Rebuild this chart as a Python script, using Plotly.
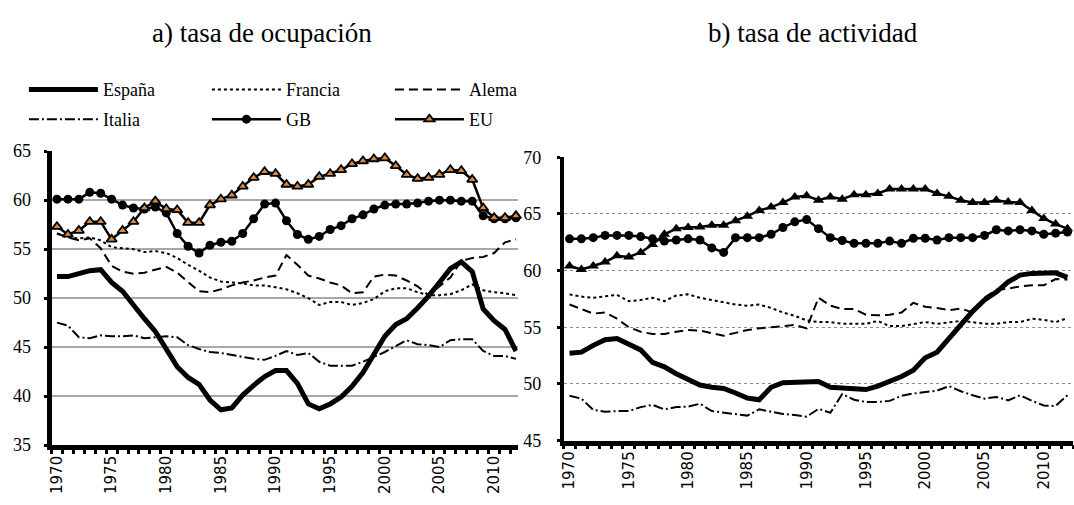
import plotly.graph_objects as go

# datos (1970-2012)
years = list(range(1970, 2013))
tick_years = [1970, 1975, 1980, 1985, 1990, 1995, 2000, 2005, 2010]

# a) tasa de ocupacion
esp_ocup = [52.2, 52.2, 52.5, 52.8, 52.9, 51.6, 50.7, 49.2, 47.9, 46.6,
            44.8, 43.0, 41.9, 41.2, 39.6, 38.6, 38.8, 40.1, 41.1, 42.0,
            42.6, 42.6, 41.3, 39.2, 38.7, 39.2, 39.9, 41.0, 42.4, 44.3,
            46.1, 47.3, 47.9, 49.0, 50.2, 51.6, 53.0, 53.7, 52.7, 48.9,
            47.7, 46.8, 44.6]
fra_ocup = [56.6, 56.2, 56.1, 56.2, 55.9, 55.2, 55.1, 55.0, 54.7, 54.8,
            54.6, 54.1, 53.4, 52.8, 52.1, 51.7, 51.6, 51.5, 51.3, 51.3,
            51.1, 50.9, 50.5, 50.0, 49.3, 49.6, 49.6, 49.3, 49.5, 49.9,
            50.7, 51.0, 51.0, 50.6, 50.3, 50.3, 50.4, 50.8, 51.4, 50.8,
            50.6, 50.5, 50.3]
ale_ocup = [56.6, 56.2, 55.9, 56.1, 55.1, 53.3, 52.7, 52.5, 52.6, 52.9,
            53.2, 52.6, 51.7, 50.7, 50.6, 50.9, 51.3, 51.6, 51.8, 52.1,
            52.3, 54.4, 53.4, 52.3, 52.0, 51.6, 51.3, 50.5, 50.6, 52.2,
            52.4, 52.3, 51.8, 51.2, 50.3, 51.2, 52.1, 53.8, 54.1, 54.2,
            54.6, 55.7, 56.0]
ita_ocup = [47.5, 47.2, 46.0, 45.9, 46.2, 46.1, 46.1, 46.2, 45.9, 46.0,
            46.1, 46.0, 45.2, 44.8, 44.5, 44.4, 44.2, 44.0, 43.8, 43.7,
            44.1, 44.6, 44.2, 44.4, 43.5, 43.1, 43.1, 43.1, 43.5, 44.0,
            44.5, 45.1, 45.7, 45.3, 45.2, 45.0, 45.7, 45.8, 45.8, 44.6,
            44.1, 44.1, 43.8]
gb_ocup = [60.1, 60.1, 60.1, 60.8, 60.7, 60.1, 59.5, 59.2, 59.1, 59.3,
           58.7, 56.6, 55.3, 54.6, 55.4, 55.7, 55.8, 56.6, 58.1, 59.6,
           59.7, 57.9, 56.5, 56.0, 56.3, 57.0, 57.4, 58.1, 58.5, 59.1,
           59.5, 59.6, 59.6, 59.7, 59.9, 60.0, 60.0, 59.9, 59.9, 58.4,
           58.1, 58.1, 58.2]
eu_ocup = [57.3, 56.5, 56.9, 57.8, 57.8, 56.0, 56.9, 57.8, 59.2, 59.9,
           59.1, 59.0, 57.7, 57.7, 59.5, 60.1, 60.5, 61.4, 62.3, 62.9,
           62.7, 61.6, 61.4, 61.6, 62.4, 62.7, 63.1, 63.7, 64.0, 64.2,
           64.3, 63.5, 62.6, 62.2, 62.3, 62.6, 63.1, 63.0, 62.1, 59.2,
           58.2, 58.2, 58.4]

# b) tasa de actividad
esp_act = [52.7, 52.8, 53.4, 53.9, 54.0, 53.5, 53.0, 51.9, 51.5, 50.9,
           50.45, 49.9, 49.7, 49.6, 49.2, 48.75, 48.6, 49.7, 50.1, 50.1,
           50.2, 50.2, 49.7, 49.65, 49.65, 49.5, 49.8, 50.2, 50.65, 51.2,
           52.3, 52.8, 54.0, 55.3, 56.4, 57.4, 58.1, 59.0, 59.6, 59.75,
           59.8, 59.8, 59.4]
fra_act = [57.9, 57.7, 57.6, 57.7, 57.85, 57.3, 57.4, 57.6, 57.3, 57.8,
           57.9, 57.6, 57.4, 57.2, 57.0, 56.9, 57.0, 56.7, 56.3, 56.0,
           55.6, 55.45, 55.45, 55.3, 55.3, 55.3, 55.55, 55.1, 55.1, 55.3,
           55.45, 55.3, 55.45, 55.55, 55.45, 55.3, 55.3, 55.45, 55.45, 55.75,
           55.65, 55.45, 55.8]
ale_act = [57.0, 56.6, 56.2, 56.3, 55.75, 55.0, 54.6, 54.4, 54.4, 54.6,
           54.75, 54.7, 54.5, 54.25, 54.5, 54.75, 54.9, 55.0, 55.1, 55.2,
           54.9, 57.6, 56.9, 56.6, 56.6, 56.1, 56.05, 56.1, 56.3, 57.15,
           56.8, 56.7, 56.5, 56.65, 56.3, 57.6, 58.3, 58.4, 58.6, 58.7,
           58.7, 59.25, 59.2]
ita_act = [48.95, 48.7, 47.7, 47.55, 47.6, 47.6, 47.95, 48.15, 47.75, 47.95,
           48.0, 48.25, 47.6, 47.45, 47.35, 47.2, 47.75, 47.55, 47.35, 47.25,
           47.1, 47.8, 47.45, 49.1, 48.6, 48.4, 48.4, 48.5, 48.95, 49.15,
           49.3, 49.4, 49.8, 49.35, 49.0, 48.7, 48.85, 48.55, 49.0, 48.5,
           48.1, 48.05, 49.0]
gb_act = [62.8, 62.8, 62.9, 63.1, 63.1, 63.1, 63.0, 62.8, 62.6, 62.7,
          62.8, 62.7, 62.0, 61.6, 62.9, 62.9, 62.9, 63.2, 63.8, 64.3,
          64.5, 63.7, 62.9, 62.65, 62.4, 62.4, 62.4, 62.6, 62.4, 62.85,
          62.85, 62.7, 62.9, 62.9, 62.9, 63.1, 63.6, 63.5, 63.6, 63.5,
          63.2, 63.3, 63.4]
eu_act = [60.4, 60.1, 60.4, 60.75, 61.3, 61.2, 61.6, 62.3, 63.2, 63.7,
          63.8, 63.85, 64.0, 64.0, 64.4, 64.8, 65.3, 65.6, 66.0, 66.5,
          66.6, 66.2, 66.5, 66.3, 66.7, 66.7, 66.8, 67.2, 67.2, 67.2,
          67.2, 66.8, 66.55, 66.2, 66.0, 66.0, 66.2, 66.05, 66.0, 65.3,
          64.6, 64.1, 63.7]

W, H = 1074, 505
SERIF = "Liberation Serif"

fig = go.Figure()

estilos = [
    ("España", esp_ocup, esp_act, dict(color="black", width=5), None, "legend"),
    ("Francia", fra_ocup, fra_act, dict(color="black", width=2, dash="3px,3px"), None, "legend"),
    ("Alema", ale_ocup, ale_act, dict(color="black", width=2, dash="9px,5px"), None, "legend"),
    ("Italia", ita_ocup, ita_act, dict(color="black", width=2, dash="10px,3px,2px,3px"), None, "legend2"),
    ("GB", gb_ocup, gb_act, dict(color="black", width=2.5), "circle", "legend2"),
    ("EU", eu_ocup, eu_act, dict(color="black", width=2.5), "triangle-up", "legend2"),
]

for name, y_ocup, y_act, line, symbol, leg in estilos:
    mode = "lines+markers" if symbol else "lines"
    if symbol == "triangle-up":
        mk_a = dict(symbol=symbol, size=9, color="#d98a3a", line=dict(color="black", width=1.8))
        mk_b = dict(symbol=symbol, size=10, color="black")
    elif symbol == "circle":
        mk_a = dict(symbol=symbol, size=9, color="black")
        mk_b = dict(symbol=symbol, size=9, color="black")
    else:
        mk_a = mk_b = None
    fig.add_trace(go.Scatter(x=years, y=y_ocup, name=name, mode=mode, line=line,
                             marker=mk_a, legend=leg, cliponaxis=False,
                             xaxis="x", yaxis="y"))
    fig.add_trace(go.Scatter(x=years, y=y_act, name=name, mode=mode, line=line,
                             marker=mk_b, showlegend=False, cliponaxis=False,
                             xaxis="x2", yaxis="y2"))

def xaxis(domain, rng):
    return dict(
        domain=domain, range=rng, showline=True, linecolor="black", linewidth=4.5,
        tickvals=tick_years, ticktext=[str(t) for t in tick_years], tickangle=-90,
        ticks="", showgrid=False, zeroline=False,
        tickfont=dict(family="DejaVu Sans", size=15, color="black"),
        minor=dict(tickvals=[1969.5 + i for i in range(44)], ticks="outside",
                   ticklen=4, tickwidth=3, tickcolor="black", showgrid=False),
    )

leg_common = dict(
    orientation="h", x=20 / W, xanchor="left", yanchor="middle",
    entrywidth=99, entrywidthmode="pixels", itemwidth=69,
    font=dict(family=SERIF, size=18, color="black"), bgcolor="rgba(0,0,0,0)",
)

fig.update_layout(
    width=W, height=H,
    margin=dict(l=0, r=0, t=0, b=0),
    paper_bgcolor="white", plot_bgcolor="white",
    xaxis=xaxis([47.7 / W, 515.5 / W], [1969.5, 2012.15]),
    xaxis2=xaxis([561.7 / W, 1073.4 / W], [1969.5, 2012.5]) | dict(anchor="y2"),
    yaxis=dict(
        domain=[1 - 453 / H, 1 - 147 / H], range=[35, 65], dtick=5,
        showline=True, linecolor="black", linewidth=5,
        ticks="outside", ticklen=3, tickwidth=3, tickcolor="black", ticklabelstandoff=9,
        showgrid=True, gridcolor="#a8a8a8", gridwidth=2, zeroline=False,
        tickfont=dict(family=SERIF, size=18, color="black"),
    ),
    yaxis2=dict(
        domain=[1 - 448.3 / H, 1 - 153.3 / H], range=[45, 70], dtick=5, anchor="x2",
        showline=True, linecolor="black", linewidth=3.5,
        ticks="outside", ticklen=3, tickwidth=3, tickcolor="black", ticklabelstandoff=12,
        showgrid=True, gridcolor="#8c8c8c", gridwidth=1, griddash="dot", zeroline=False,
        tickfont=dict(family=SERIF, size=18, color="black"),
    ),
    legend=leg_common | dict(y=1 - 83 / H),
    legend2=leg_common | dict(y=1 - 114 / H),
    showlegend=True,
    annotations=[
        dict(text="a) tasa de ocupación", x=259 / W, y=1 - 24 / H, xref="paper", yref="paper",
             xanchor="center", yanchor="middle", showarrow=False,
             font=dict(family=SERIF, size=27, color="black")),
        dict(text="b) tasa de actividad", x=812 / W, y=1 - 24 / H, xref="paper", yref="paper",
             xanchor="center", yanchor="middle", showarrow=False,
             font=dict(family=SERIF, size=27, color="black")),
    ],
)

page_css = ("var s='margin:0;padding:0;overflow:hidden;height:505px;width:1074px;';"
            "document.documentElement.style.cssText=s;document.body.style.cssText=s;"
            "var d=document.getElementById('{plot_id}');d.parentElement.style.cssText=s;")
fig.write_html("out.html", config={"displayModeBar": False}, post_script=page_css)
